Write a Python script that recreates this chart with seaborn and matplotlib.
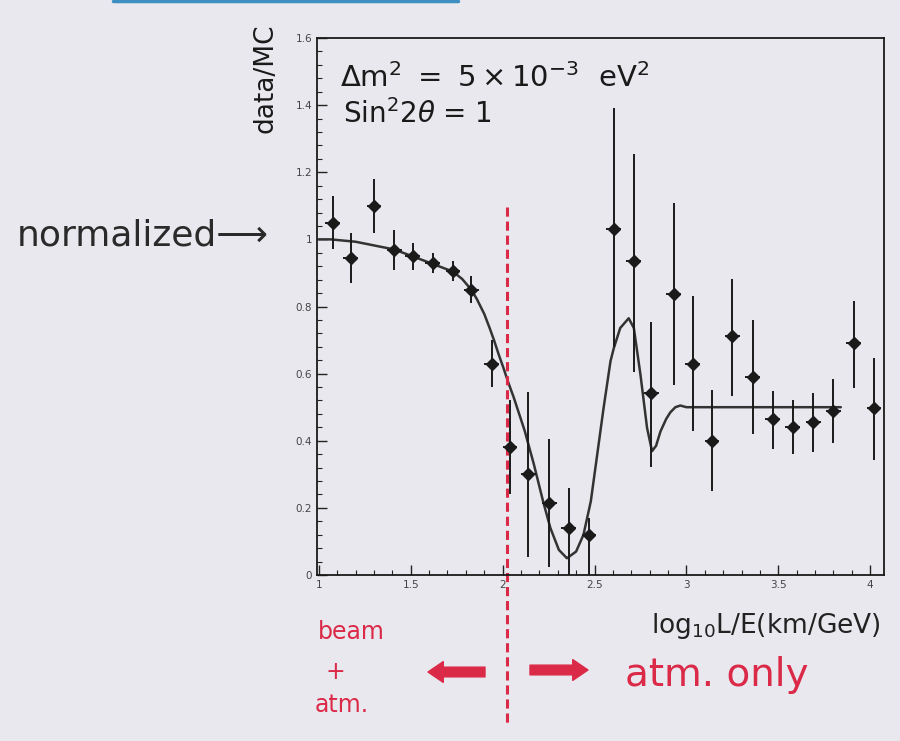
import seaborn as sns
import matplotlib.pyplot as plt
from matplotlib.ticker import MultipleLocator, FormatStrFormatter
import matplotlib.lines as mlines

# data/MC ratio per log10(L/E) bin
bin_x = [1.076, 1.174, 1.30, 1.41, 1.51, 1.62, 1.73, 1.83, 1.94, 2.04,
         2.14, 2.255, 2.36, 2.47, 2.605, 2.714, 2.81, 2.93, 3.035, 3.14,
         3.25, 3.36, 3.47, 3.578, 3.69, 3.80, 3.91, 4.02]
ratio = [1.05, 0.945, 1.10, 0.968, 0.95, 0.93, 0.905, 0.85, 0.63, 0.38,
         0.30, 0.215, 0.14, 0.12, 1.03, 0.935, 0.543, 0.837, 0.63, 0.40,
         0.712, 0.59, 0.464, 0.442, 0.456, 0.489, 0.692, 0.498]
err_lo = [0.08, 0.075, 0.08, 0.06, 0.04, 0.03, 0.03, 0.04, 0.07, 0.14,
          0.245, 0.19, 0.14, 0.12, 0.35, 0.33, 0.22, 0.27, 0.2, 0.15,
          0.18, 0.17, 0.09, 0.08, 0.09, 0.095, 0.135, 0.155]
err_hi = [0.08, 0.075, 0.08, 0.06, 0.04, 0.03, 0.03, 0.04, 0.07, 0.14,
          0.245, 0.19, 0.12, 0.05, 0.36, 0.32, 0.21, 0.27, 0.2, 0.15,
          0.17, 0.17, 0.085, 0.08, 0.085, 0.095, 0.125, 0.15]

# expected oscillation curve (dm2 = 5e-3, sin^2 2theta = 1), traced
curve_x = [1.0, 1.065, 1.2, 1.41, 1.61, 1.73, 1.78, 1.83, 1.86, 1.90,
           1.93, 1.953, 1.98, 2.004, 2.03, 2.06, 2.12, 2.17, 2.22, 2.26,
           2.306, 2.35, 2.40, 2.44, 2.48, 2.515, 2.55, 2.587, 2.605, 2.64,
           2.686, 2.714, 2.75, 2.786, 2.813, 2.835, 2.859, 2.89, 2.913, 2.94,
           2.967, 3.0, 3.84]
curve_y = [1.0, 1.0, 0.993, 0.97, 0.929, 0.904, 0.882, 0.85, 0.822, 0.778,
           0.735, 0.70, 0.655, 0.618, 0.575, 0.53, 0.43, 0.33, 0.22, 0.14,
           0.075, 0.05, 0.07, 0.12, 0.22, 0.36, 0.50, 0.637, 0.676, 0.736,
           0.765, 0.736, 0.597, 0.438, 0.369, 0.385, 0.428, 0.465, 0.485, 0.50,
           0.505, 0.50, 0.50]

cut_x = 2.025
red = "#db2a48"
paper = "#e9e8ee"

sns.set_theme(style="ticks")
plt.rcParams["font.family"] = ["DejaVu Sans"]
plt.rcParams["mathtext.fontset"] = "dejavusans"

fig = plt.figure(figsize=(9, 7.41), dpi=100, facecolor=paper)
ax = fig.add_axes([0.3522, 0.224, 0.63, 0.7247])
ax.set_facecolor(paper)

sns.lineplot(x=curve_x, y=curve_y, ax=ax, color="#333333", lw=1.8,
             estimator=None, sort=False)
ax.errorbar(bin_x, ratio, yerr=[err_lo, err_hi], xerr=0.04, fmt="D",
            color="#1a1a1a", ms=6, elinewidth=1.4, capsize=0)

# cut between beam+atm and atm-only samples
ax.plot([cut_x, cut_x], [1.097, -0.447], color=red, lw=2.2,
        dashes=(3, 1.6), clip_on=False)

ax.set_xlim(0.99, 4.075)
ax.set_ylim(0, 1.6)
ax.xaxis.set_major_locator(MultipleLocator(0.5))
ax.xaxis.set_minor_locator(MultipleLocator(0.1))
ax.yaxis.set_major_locator(MultipleLocator(0.2))
ax.yaxis.set_minor_locator(MultipleLocator(0.04))
ax.xaxis.set_major_formatter(FormatStrFormatter("%g"))
ax.yaxis.set_major_formatter(FormatStrFormatter("%g"))
ax.tick_params(which="both", direction="in", top=False, right=False,
               labelsize=7.5, labelcolor="#444444", color="#222222")
ax.tick_params(which="major", length=7, width=1)
ax.tick_params(which="minor", length=3.5, width=0.8)
for s in ax.spines.values():
    s.set_color("#1a1a1a")
    s.set_linewidth(1.3)

ax.text(1.115, 1.454, r"$\Delta\mathrm{m}^2\ =\ 5\times10^{-3}\ \ \mathrm{eV}^2$",
        fontsize=21, color="#1a1a1a", va="baseline")
ax.text(1.131, 1.347, r"Sin$^2$2$\theta$ = 1", fontsize=20,
        color="#1a1a1a", va="baseline")
ax.text(-0.09, 0.925, "data/MC", transform=ax.transAxes, rotation=90,
        fontsize=19, color="#1a1a1a", ha="center", va="center")
ax.text(0.995, -0.095, r"log$_{10}$L/E(km/GeV)", transform=ax.transAxes,
        fontsize=19, color="#222222", ha="right", va="center")

fig.text(17 / 900, 1 - 236 / 741, "normalized⟶", fontsize=26,
         color="#2a2a2a", va="center")

fig.text(318 / 900, 1 - 632 / 741, "beam", fontsize=17, color=red, va="center")
fig.text(335 / 900, 1 - 672 / 741, "+", fontsize=17, color=red,
         ha="center", va="center")
fig.text(315 / 900, 1 - 705 / 741, "atm.", fontsize=17, color=red, va="center")
fig.text(625 / 900, 1 - 675 / 741, "atm. only", fontsize=28, color=red,
         va="center")

arrow = dict(arrowstyle="simple,head_width=0.75,head_length=0.55,tail_width=0.35",
             color=red, mutation_scale=20, shrinkA=0, shrinkB=0)
ax.annotate("", xy=(428 / 900, 1 - 672 / 741), xytext=(485 / 900, 1 - 672 / 741),
            xycoords="figure fraction", textcoords="figure fraction",
            arrowprops=arrow)
ax.annotate("", xy=(588 / 900, 1 - 670 / 741), xytext=(530 / 900, 1 - 670 / 741),
            xycoords="figure fraction", textcoords="figure fraction",
            arrowprops=arrow)

# blue marker stripe along the top edge of the scan
fig.add_artist(mlines.Line2D([113 / 900, 458 / 900], [0.998, 0.998],
                             color="#3d8fc2", lw=2.5))

fig.savefig("out.png", dpi=100, facecolor=paper)
